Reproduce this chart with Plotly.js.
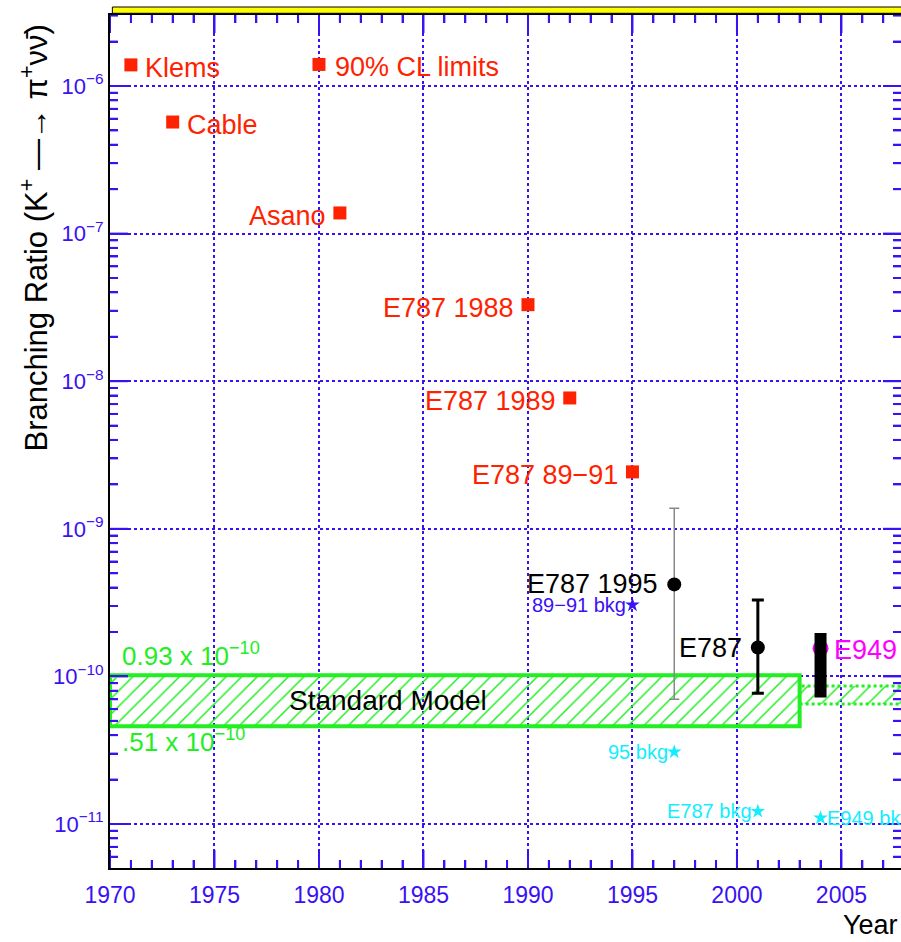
<!DOCTYPE html>
<html><head><meta charset="utf-8">
<script src="https://cdn.plot.ly/plotly-3.0.1.min.js"></script>
<style>body{margin:0;background:#fff}</style>
</head><body><div id="chart" style="width:901px;height:942px"></div>
<script>
// ---- data ----
const limitYears  = [1971, 1973, 1981, 1990, 1992, 1995];
const limitValues = [1.39e-6, 5.7e-7, 1.38e-7, 3.3e-8, 7.7e-9, 2.43e-9];
const limitLabels = ["Klems", "Cable", "Asano", "E787 1988", "E787 1989", "E787 89\u221291"];
const limitLabelRight = [true, true, false, false, false, false];

const legendYears  = [1980];
const legendValues = [1.4e-6];
const legendLabels = ["90% CL limits"];

const measYears     = [1997, 2001];
const measValues    = [4.2e-10, 1.57e-10];
const measErrPlus   = [9.6e-10, 1.73e-10];
const measErrMinus  = [3.5e-10, 0.80e-10];
const measLabels    = ["E787 1995", "E787"];

const e949Years    = [2004];
const e949Values   = [1.55e-10];
const e949ErrPlus  = [0.42e-10];
const e949ErrMinus = [0.83e-10];
const e949Labels   = ["E949"];

const bkgYears  = [1995, 1997, 2001, 2004];
const bkgValues = [3.05e-10, 3.08e-11, 1.22e-11, 1.10e-11];
const bkgLabels = ["89\u221291 bkg", "95 bkg", "E787 bkg", "E949 bkg"];
const bkgLabelRight = [false, false, false, true];

const smYears = [1970, 2003];
const smRange = [4.6e-11, 1.02e-10];
const smFutureYears = [2003, 2008];
const smFutureRange = [6.5e-11, 8.6e-11];
const smHighLabel = "0.93 x 10<sup>\u221210</sup>";
const smLowLabel  = ".51 x 10<sup>\u221210</sup>";
const smName = "Standard Model";

const xTickVals = [1970, 1975, 1980, 1985, 1990, 1995, 2000, 2005];
const xTickText = ["1970", "1975", "1980", "1985", "1990", "1995", "2000", "2005"];
const yTickVals = [1e-11, 1e-10, 1e-9, 1e-8, 1e-7, 1e-6];
const yTickText = ["10<sup>\u221211</sup>", "10<sup>\u221210</sup>", "10<sup>\u22129</sup>",
                   "10<sup>\u22128</sup>", "10<sup>\u22127</sup>", "10<sup>\u22126</sup>"];

// ---- styles ----
const FONT = "Liberation Sans, Arial, sans-serif";
const BLUE = "#3a10f5";
const RED = "#ff2200";
const GREEN = "#22ee22";
const CYAN = "#11eeff";
const MAGENTA = "#ff00ff";
const XR = [1970, 2007.85];
const YR = [-11.298, -5.519];
const PLOT_W = 791, PLOT_H = 853;
const pxPerYear = PLOT_W / (XR[1] - XR[0]);
const pxPerDec = PLOT_H / (YR[1] - YR[0]);

// ---- axis tick decoration (drawn as line segments through the axes' scales) ----
const xMinor = [];
for (let yr = 1971; yr <= 2007; yr++) if (yr % 5 !== 0) xMinor.push(yr);
const yMinor = [];
for (let e = -12; e <= -6; e++) for (let m = 2; m <= 9; m++) {
  const v = m * Math.pow(10, e);
  if (Math.log10(v) > YR[0] && Math.log10(v) < YR[1]) yMinor.push(v);
}
const tickX = [], tickY = [];
function addXTick(x, len) {
  const d = len / pxPerDec;
  tickX.push(x, x, null, x, x, null);
  tickY.push(Math.pow(10, YR[0]), Math.pow(10, YR[0] + d), null, Math.pow(10, YR[1]), Math.pow(10, YR[1] - d), null);
}
function addYTick(y, len) {
  const d = len / pxPerYear;
  tickX.push(XR[0], XR[0] + d, null, XR[1], XR[1] - d, null);
  tickY.push(y, y, null, y, y, null);
}
xTickVals.forEach(v => addXTick(v, 18));
xMinor.forEach(v => addXTick(v, 8));
yTickVals.forEach(v => addYTick(v, 18));
yMinor.forEach(v => addYTick(v, 8));

function box(xs, r) {
  return { x: [xs[0], xs[1], xs[1], xs[0], xs[0]], y: [r[0], r[0], r[1], r[1], r[0]] };
}
const smBox = box(smYears, smRange);
const smFut = box(smFutureYears, smFutureRange);

const traces = [];
traces.push({ x: tickX, y: tickY, mode: "lines", connectgaps: false,
              line: { color: BLUE, width: 2 }, hoverinfo: "skip", showlegend: false });
traces.push({
  x: smBox.x, y: smBox.y, mode: "lines", fill: "toself",
  fillcolor: "rgba(0,0,0,0)",
  fillpattern: { shape: "/", fgcolor: GREEN, bgcolor: "rgba(255,255,255,0)", size: 11, solidity: 0.14 },
  line: { color: GREEN, width: 4 }, hoverinfo: "skip", showlegend: false
});
traces.push({
  x: smFut.x, y: smFut.y, mode: "lines", fill: "toself",
  fillcolor: "rgba(0,0,0,0)",
  fillpattern: { shape: "/", fgcolor: GREEN, bgcolor: "rgba(255,255,255,0)", size: 11, solidity: 0.14 },
  line: { color: GREEN, width: 3, dash: "dot" }, hoverinfo: "skip", showlegend: false
});
traces.push({
  x: limitYears.concat(legendYears), y: limitValues.concat(legendValues), mode: "markers",
  marker: { symbol: "square", size: 13, color: RED }, showlegend: false
});
traces.push({
  x: bkgYears.slice(0, 1), y: bkgValues.slice(0, 1), mode: "markers",
  marker: { symbol: "star", size: 11, color: BLUE }, showlegend: false
});
traces.push({
  x: bkgYears.slice(1), y: bkgValues.slice(1), mode: "markers",
  marker: { symbol: "star", size: 11, color: CYAN }, showlegend: false
});
const measStyles = [{ c: "#888888", t: 1.5, w: 5 }, { c: "#000000", t: 3, w: 6 }];
measYears.forEach((yr, i) => {
  traces.push({
    x: [yr], y: [measValues[i]], mode: "markers",
    marker: { symbol: "circle", size: 14, color: "#000" },
    error_y: { type: "data", symmetric: false, array: [measErrPlus[i]], arrayminus: [measErrMinus[i]],
               color: measStyles[i].c, thickness: measStyles[i].t, width: measStyles[i].w },
    showlegend: false
  });
});
traces.push({
  x: e949Years, y: e949Values, mode: "markers",
  marker: { symbol: "circle", size: 16, color: MAGENTA }, showlegend: false
});
traces.push({
  x: e949Years, y: e949Values, mode: "markers",
  marker: { symbol: "circle", size: 1, color: "rgba(0,0,0,0)" },
  error_y: { type: "data", symmetric: false, array: e949ErrPlus, arrayminus: e949ErrMinus,
             color: "#000", thickness: 12, width: 0 },
  showlegend: false
});

// ---- annotations ----
const ann = [];
function lbl(x, y, text, right, color, size, gap, yshift) {
  ann.push({ x: x, y: Math.log10(y), xref: "x", yref: "y", text: text, showarrow: false,
             xanchor: right ? "left" : "right", yanchor: "middle", xshift: right ? gap : -gap,
             yshift: yshift || 0, font: { family: FONT, size: size, color: color } });
}
limitYears.forEach((yr, i) => lbl(yr, limitValues[i], limitLabels[i], limitLabelRight[i], RED, 27, 12, -3));
legendYears.forEach((yr, i) => lbl(yr, legendValues[i], legendLabels[i], true, RED, 27, 14, -3));
measYears.forEach((yr, i) => lbl(yr, measValues[i], measLabels[i], false, "#000", 27, 14, 0));
e949Years.forEach((yr, i) => lbl(yr, e949Values[i], e949Labels[i], true, MAGENTA, 27, 11, -2));
bkgYears.forEach((yr, i) => lbl(yr, bkgValues[i], bkgLabels[i], bkgLabelRight[i], i === 0 ? BLUE : CYAN, 20, 4, 0));

ann.push({ x: smYears[0], y: Math.log10(smRange[1]), xref: "x", yref: "y", text: smHighLabel, showarrow: false,
           xanchor: "left", yanchor: "bottom", xshift: 10, yshift: 2, font: { family: FONT, size: 26, color: GREEN } });
ann.push({ x: smYears[0], y: Math.log10(smRange[0]), xref: "x", yref: "y", text: smLowLabel, showarrow: false,
           xanchor: "left", yanchor: "top", xshift: 10, yshift: 4, font: { family: FONT, size: 26, color: GREEN } });
ann.push({ x: 1983.3, y: (Math.log10(smRange[0]) + Math.log10(smRange[1])) / 2, xref: "x", yref: "y",
           text: smName, showarrow: false, xanchor: "center", yanchor: "middle",
           font: { family: FONT, size: 28, color: "#000" } });

ann.push({ x: -0.096, y: 0.738, xref: "paper", yref: "paper", textangle: -90, showarrow: false,
           text: "Branching Ratio (K<sup>+</sup> \u2014\u2192 \u03C0<sup>+</sup>\u03BD\u03BD\u0304)",
           font: { family: FONT, size: 31, color: "#000" }, xanchor: "center", yanchor: "middle" });
ann.push({ x: 0.924, y: -0.067, xref: "paper", yref: "paper", showarrow: false, text: "Year",
           xanchor: "left", yanchor: "middle", font: { family: FONT, size: 27, color: "#000" } });

const layout = {
  width: 901, height: 942,
  margin: { l: 110, r: 0, t: 15, b: 74 },
  showlegend: false,
  xaxis: {
    range: XR, tickmode: "array", tickvals: xTickVals, ticktext: xTickText,
    ticks: "inside", ticklen: 18, tickwidth: 2, tickcolor: BLUE,
    showline: true, linecolor: "#000", linewidth: 2, mirror: "ticks",
    showgrid: true, gridcolor: BLUE, gridwidth: 2, griddash: "dot", zeroline: false,
    minor: { ticks: "inside", ticklen: 8, tickwidth: 2, tickcolor: BLUE, dtick: 1, showgrid: false },
    tickfont: { family: FONT, size: 23, color: BLUE }, ticklabelstandoff: 5
  },
  yaxis: {
    type: "log", range: YR, tickmode: "array", tickvals: yTickVals, ticktext: yTickText,
    ticks: "inside", ticklen: 18, tickwidth: 2, tickcolor: BLUE,
    showline: true, linecolor: "#000", linewidth: 2, mirror: "ticks",
    showgrid: true, gridcolor: BLUE, gridwidth: 2, griddash: "dot", zeroline: false,
    minor: { ticks: "inside", ticklen: 8, tickwidth: 2, tickcolor: BLUE, dtick: "D1", showgrid: false },
    tickfont: { family: FONT, size: 22, color: BLUE }
  },
  shapes: [
    { type: "rect", xref: "paper", yref: "paper", x0: 0.003, x1: 1.01, y0: 1.002, y1: 1 + 8 / 853,
      fillcolor: "#ffff00", line: { color: "#000", width: 1 }, layer: "above" }
  ],
  annotations: ann
};

Plotly.newPlot("chart", traces, layout, { displayModeBar: false, staticPlot: true });
</script>
</body></html>
